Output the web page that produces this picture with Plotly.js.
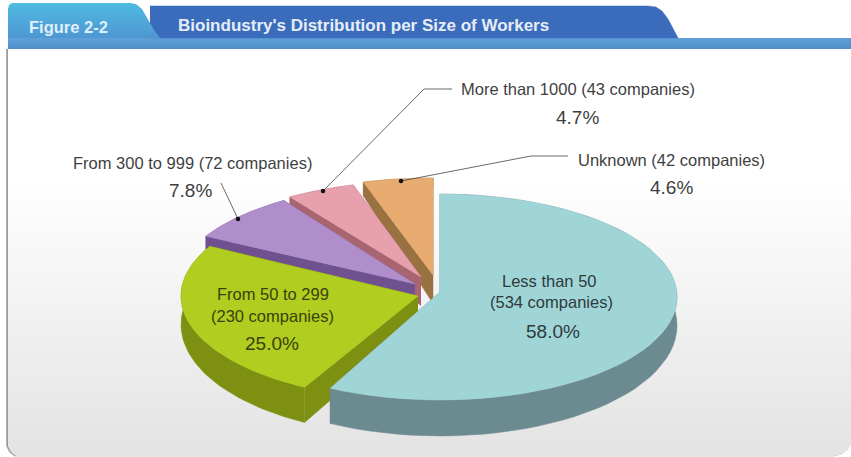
<!DOCTYPE html>
<html>
<head>
<meta charset="utf-8">
<script src="https://cdn.plot.ly/plotly-3.0.1.min.js"></script>
<style>html,body{margin:0;padding:0;background:#fff;overflow:hidden}#c{width:851px;height:457px}</style>
</head>
<body>
<div id="c"></div>
<script>
// ---- data ----
var categories = ["Less than 50", "From 50 to 299", "From 300 to 999", "More than 1000", "Unknown"];
var companies  = [534, 230, 72, 43, 42];
var shares     = [58.0, 25.0, 7.8, 4.7, 4.6];

// ---- styling / geometry of the exploded, tilted pie ----
var geom = [
  {cx:440, cy:297, a:237, b:103, endShift:-1, apexDy:-5},
  {cx:418, cy:296, a:237, b:104, endShift:0, apexDy:0},
  {cx:415, cy:284, a:238, b:100, endShift:0, apexDy:0},
  {cx:421, cy:277, a:238, b:96, endShift:0, apexDy:0},
  {cx:433, cy:275, a:245, b:97, endShift:0, apexDy:0}
];
var topColors  = ["#a0d5d7", "#b1cd1f", "#b08ecb", "#e6a0ae", "#e8ac70"];
var sideColors = ["#6c8b90", "#7e9012", "#6f5190", "#a8656f", "#9a7242"];

function rad(d){return d*Math.PI/180;}
function depth(t){ var v=(1-Math.cos(rad(t)))/2; return 10+26*Math.sqrt(v); }
function px(g,t){ return g.cx+g.a*Math.sin(rad(t)); }
function py(g,t){ return g.cy-g.b*Math.cos(rad(t)); }

var traces = [];
function poly(xs,ys,color){
  traces.push({type:"scatter",mode:"lines",x:xs,y:ys,fill:"toself",fillcolor:color,
    line:{width:0.5,color:color},hoverinfo:"skip",showlegend:false});
}
function gradPoly(xs,ys,scale,type){
  traces.push({type:"scatter",mode:"lines",x:xs,y:ys,fill:"toself",
    fillgradient:{type:type||"vertical",colorscale:scale},
    line:{width:0},hoverinfo:"skip",showlegend:false});
}

// ---- card and header ----
var L=8,R=851,T=49,B=456;
var cardX=[L,L,L+3,L+8,R-16,R-8,R-3,R,R,L];
var cardY=[T,B-10,B-4,B,B,B-2,B-6,B-12,T,T];
poly(cardX.map(function(v){return v-1.5;}),cardY,"#9a9a9a");
gradPoly(cardX,cardY,[[0,"#e3e3e3"],[0.68,"#ffffff"],[1,"#ffffff"]]);
gradPoly([L,R,R,L,L],[38,38,49,49,38],[[0,"#4f8fc9"],[1,"#5fa0d8"]]);
poly([150,648,656,662,668,678,150],[6,6,7,11,19,38,38],"#3a6cbb");
// light-blue figure tab
gradPoly([8,8,9,12,130,136,142,148,154,160,8],[38,9,5,3,3,4,9,20,30,38,38],[[0,"#4f96d2"],[1,"#4fbbe2"]]);

// ---- pie slices, drawn back to front, angles come from the shares ----
var total = shares.reduce(function(s,v){return s+v;},0);
var starts=[],ends=[],acc=0;
shares.forEach(function(v){starts.push(acc/total*360);acc+=v;ends.push(acc/total*360);});

function drawSlice(i){
  var g=geom[i],t0=starts[i],t1=ends[i]+g.endShift,k,n=60,t;
  var dc=depth(90),ay=g.cy+g.apexDy;
  poly([g.cx,px(g,t1),px(g,t1),g.cx],[ay,py(g,t1),py(g,t1)+depth(t1),ay+dc],sideColors[i]);
  poly([g.cx,px(g,t0),px(g,t0),g.cx],[ay,py(g,t0),py(g,t0)+depth(t0),ay+dc],sideColors[i]);
  var xs=[],ys=[],xb=[],yb=[];
  for(k=0;k<=n;k++){t=t0+(t1-t0)*k/n;xs.push(px(g,t));ys.push(py(g,t));xb.unshift(px(g,t));yb.unshift(py(g,t)+depth(t));}
  poly(xs.concat(xb),ys.concat(yb),sideColors[i]);
  poly([g.cx].concat(xs).concat([g.cx]),[ay].concat(ys).concat([ay]),topColors[i]);
}
[4,3,2,1,0].forEach(drawSlice);

// ---- leader lines with dots ----
function leader(xs,ys){
  traces.push({type:"scatter",mode:"lines",x:xs,y:ys,line:{width:0.8,color:"#444"},hoverinfo:"skip",showlegend:false});
  traces.push({type:"scatter",mode:"markers",x:[xs[0]],y:[ys[0]],marker:{size:4.5,color:"#111"},hoverinfo:"skip",showlegend:false});
}
leader([238,221],[219,183]);
leader([323,424,452],[191,89,89]);
leader([401,531,568],[181,156,156]);

// ---- text ----
var F="Liberation Sans, Arial, sans-serif", C="#3f3f3f";
function pct(v){return v.toFixed(1)+"%";}
function note(x,y,text,size,color,family,weight){
  return {x:x,y:y,xref:"x",yref:"y",text:text,showarrow:false,xanchor:"center",yanchor:"middle",
          font:{family:family||F,size:size||13,color:color||C,weight:weight||400}};
}
function label(i){return categories[i];}
var annotations=[
  note(68,27,"Figure 2-2",16.5,"#dff0fa",F,700),
  note(363,25,"Bioindustry's Distribution per Size of Workers",17,"#e6edf8",F,700),
  note(578,89,label(3)+" ("+companies[3]+" companies)",16.5),
  note(577,117,pct(shares[3]),19),
  note(192,163,label(2)+" ("+companies[2]+" companies)",16.5),
  note(190,190,pct(shares[2]),19),
  note(671,160,label(4)+" ("+companies[4]+" companies)",16.5),
  note(671,187,pct(shares[4]),19),
  note(549,281,label(0),16.5,"#2f3a3c"),
  note(551,302,"("+companies[0]+" companies)",16.5,"#2f3a3c"),
  note(553,331,pct(shares[0]),19,"#2f3a3c"),
  note(273,294,label(1),16.5,"#39420a"),
  note(272,316,"("+companies[1]+" companies)",16.5,"#39420a"),
  note(272,343,pct(shares[1]),19,"#39420a")
];

Plotly.newPlot("c",traces,{
  width:851,height:457,margin:{l:0,r:0,t:0,b:0},
  paper_bgcolor:"#ffffff",plot_bgcolor:"rgba(0,0,0,0)",showlegend:false,
  xaxis:{range:[0,851],visible:false,fixedrange:true},
  yaxis:{range:[457,0],visible:false,fixedrange:true},
  annotations:annotations
},{displayModeBar:false,staticPlot:true});
</script>
</body>
</html>
